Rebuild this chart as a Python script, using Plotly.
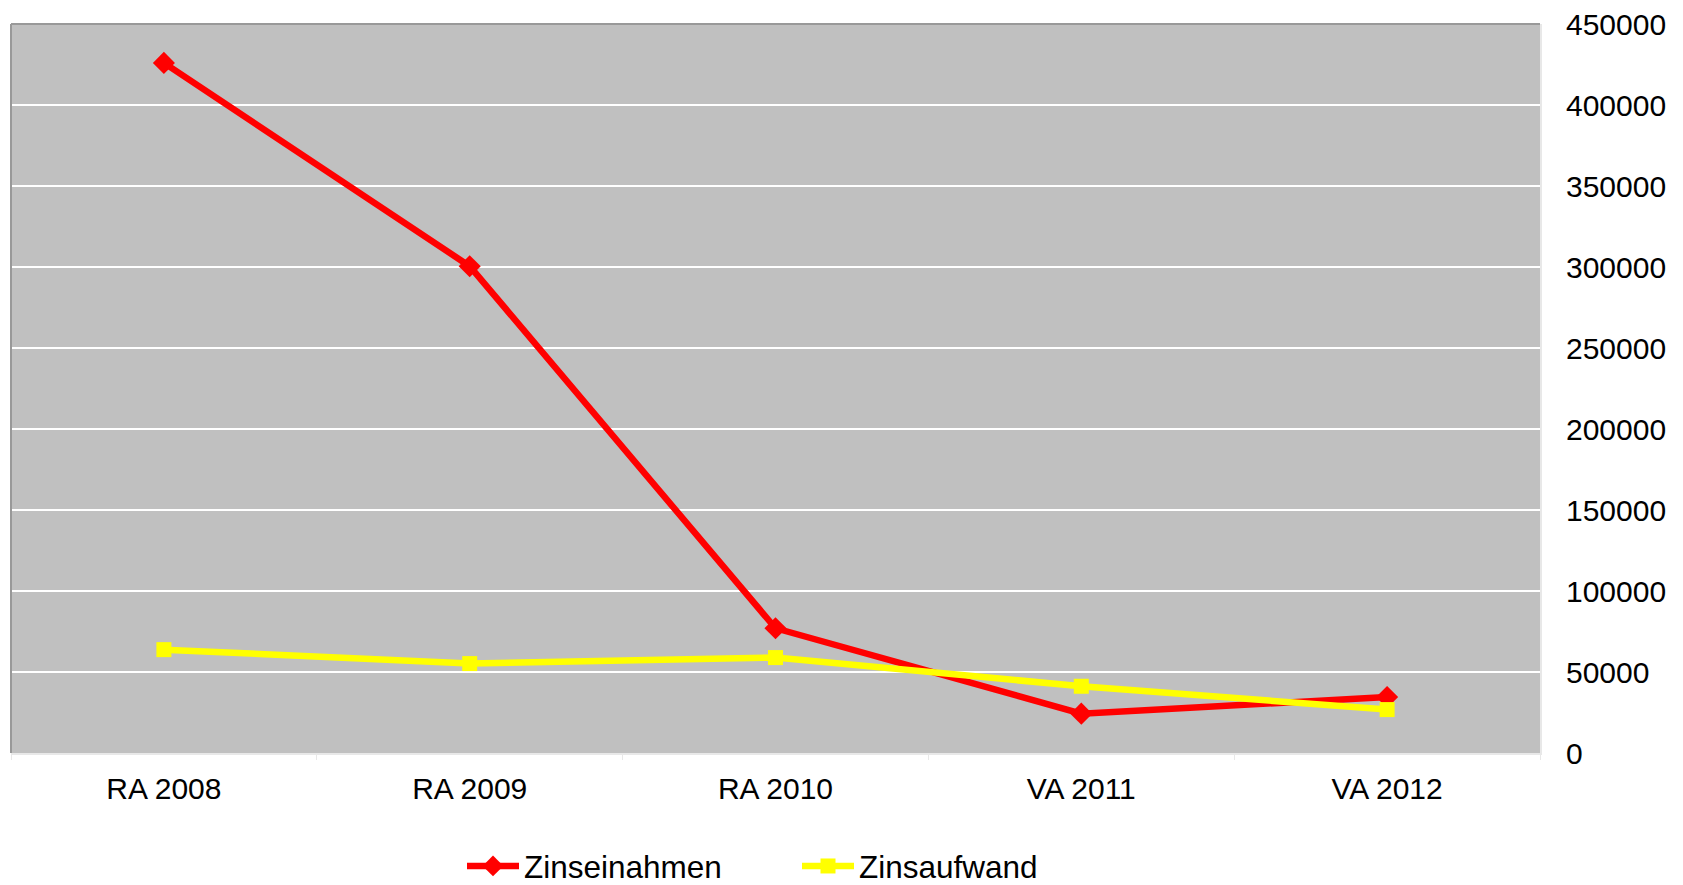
import plotly.graph_objects as go

categories = ["RA 2008", "RA 2009", "RA 2010", "VA 2011", "VA 2012"]
zinseinahmen = [426000, 300500, 77000, 24300, 34500]
zinsaufwand = [63800, 55200, 58900, 41200, 26800]
y_ticks = [0, 50000, 100000, 150000, 200000, 250000, 300000, 350000, 400000, 450000]

W, H = 1683, 885
L, R, T, B = 11, 1540, 24, 753

fig = go.Figure()
fig.add_trace(go.Scatter(
    x=categories, y=zinseinahmen, name="Zinseinahmen", mode="lines+markers",
    line=dict(color="#FF0000", width=6.5),
    marker=dict(symbol="diamond", size=17, color="#FF0000"),
))
fig.add_trace(go.Scatter(
    x=categories, y=zinsaufwand, name="Zinsaufwand", mode="lines+markers",
    line=dict(color="#FFFF00", width=6.5),
    marker=dict(symbol="square", size=15, color="#FFFF00"),
))

fig.update_layout(
    width=W, height=H,
    margin=dict(l=L, r=W - R, t=T, b=H - B, pad=0, autoexpand=False),
    paper_bgcolor="white", plot_bgcolor="#C0C0C0",
    font=dict(family="Liberation Sans, Arial, sans-serif", color="black"),
    showlegend=True,
    legend=dict(
        orientation="h", x=(462 - L) / (R - L), xanchor="left",
        y=-(866 - B) / (B - T), yanchor="middle",
        font=dict(size=31.5), entrywidth=268, entrywidthmode="pixels",
        itemwidth=52, bgcolor="rgba(0,0,0,0)",
    ),
    xaxis=dict(
        type="category", range=[-0.5, 4.5], showgrid=False, automargin=False,
        showline=True, linecolor="#E8E8E8", linewidth=2,
        ticks="outside", tickson="boundaries", ticklen=5, tickcolor="#E8E8E8",
        tickfont=dict(size=30), ticklabelstandoff=8, zeroline=False,
    ),
    yaxis=dict(
        side="right", range=[0, 450000], tickvals=y_ticks, automargin=False,
        ticktext=[str(v) for v in y_ticks],
        showgrid=True, gridcolor="white", gridwidth=1.5,
        zeroline=False, showline=True, linecolor="#E8E8E8", linewidth=2,
        tickfont=dict(size=30), ticks="", ticklabelstandoff=18,
    ),
    shapes=[
        dict(type="line", xref="paper", yref="paper", x0=0, x1=0, y0=0, y1=1,
             line=dict(color="#999999", width=2)),
        dict(type="line", xref="paper", yref="paper", x0=0, x1=1, y0=1, y1=1,
             line=dict(color="#999999", width=2)),
    ],
)

fig.write_html(
    "out.html",
    config={"displayModeBar": False},
    post_script="document.body.style.margin='0';document.body.style.overflow='hidden';",
)
